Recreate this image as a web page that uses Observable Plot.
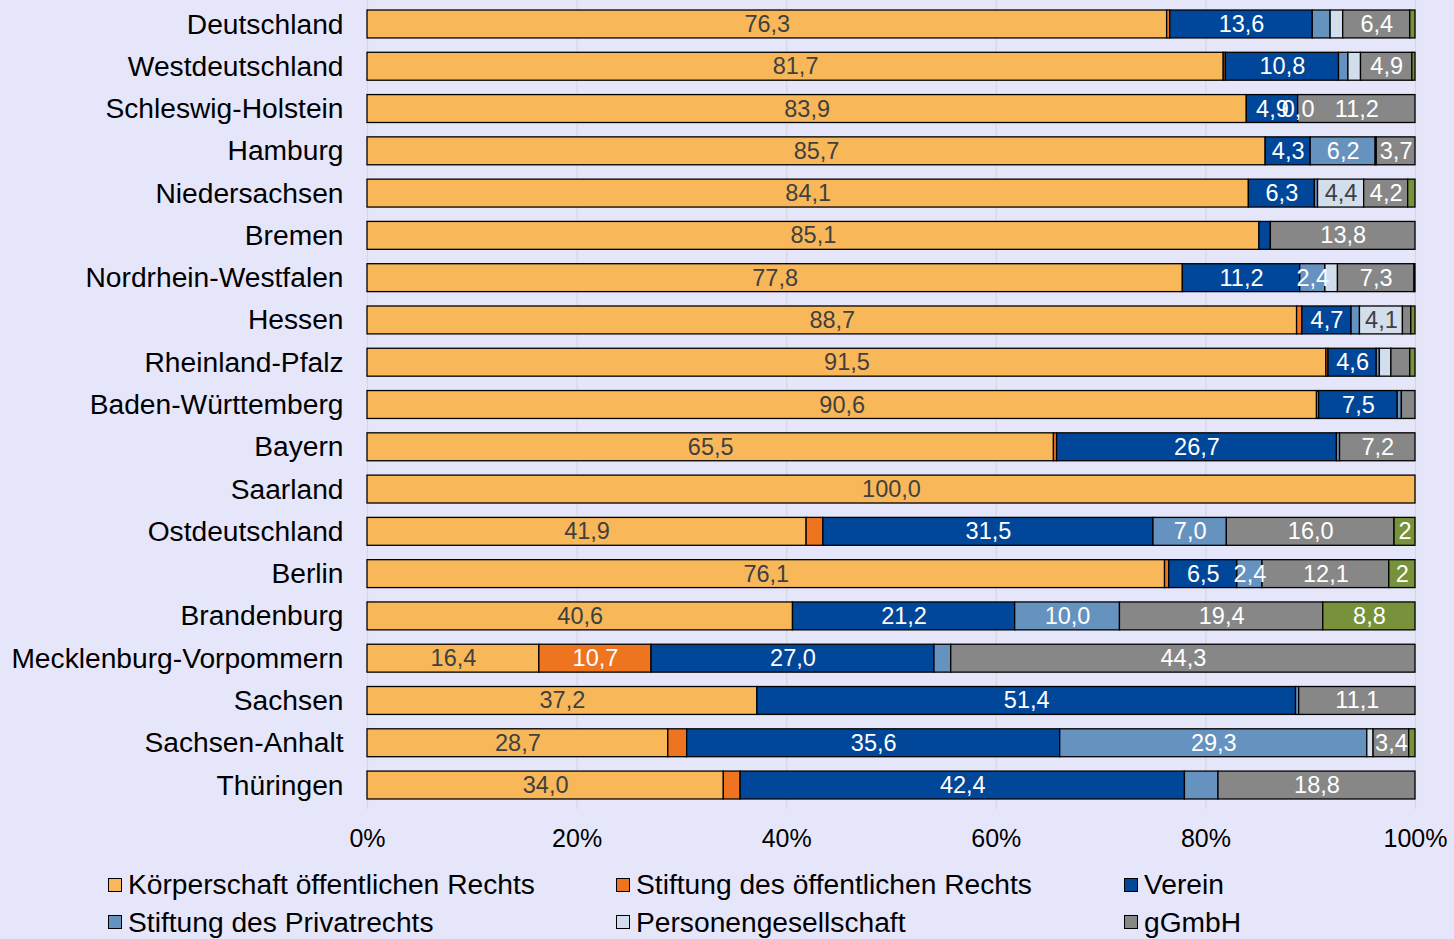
<!DOCTYPE html>
<html>
<head>
<meta charset="utf-8">
<script src="https://cdn.jsdelivr.net/npm/d3@7"></script>
<script src="https://cdn.jsdelivr.net/npm/@observablehq/plot@0.6"></script>
<style>
  html, body { margin: 0; padding: 0; background: #E6E6FA; }
  body { width: 1454px; height: 939px; overflow: hidden; font-family: "Liberation Sans", Arial, sans-serif; }
  #chart svg { display: block; }
  #legend { position: relative; width: 1454px; height: 77px; }
  .item { position: absolute; display: flex; align-items: center; font-size: 28.2px; color: #000; white-space: nowrap; height: 37px; }
  .sw { width: 12px; height: 12px; border: 1.5px solid #000; margin-right: 6px; flex: none; }
</style>
</head>
<body>
<div id="chart"></div>
<div id="legend"></div>
<script>
const lands = ["Deutschland","Westdeutschland","Schleswig-Holstein","Hamburg","Niedersachsen","Bremen","Nordrhein-Westfalen","Hessen","Rheinland-Pfalz","Baden-Württemberg","Bayern","Saarland","Ostdeutschland","Berlin","Brandenburg","Mecklenburg-Vorpommern","Sachsen","Sachsen-Anhalt","Thüringen"];

const seriesNames = ["Körperschaft öffentlichen Rechts","Stiftung des öffentlichen Rechts","Verein","Stiftung des Privatrechts","Personengesellschaft","gGmbH","Sonstige"];
const seriesColors = ["#F8B85A","#EE7420","#00479A","#6692C0","#D2DEEC","#878787","#77923A"];
const legendSeries = seriesNames.slice(0, 6);
const darkLabelSeries = ["Körperschaft öffentlichen Rechts","Personengesellschaft"];

const koerperschaft = [76.3, 81.7, 83.9, 85.7, 84.1, 85.1, 77.8, 88.7, 91.5, 90.6, 65.5, 100.0, 41.9, 76.1, 40.6, 16.4, 37.2, 28.7, 34.0];
const stiftungOeR   = [0.3, 0.2, 0, 0, 0, 0, 0, 0.5, 0.2, 0.2, 0.3, 0, 1.6, 0.4, 0, 10.7, 0, 1.8, 1.6];
const verein        = [13.6, 10.8, 4.9, 4.3, 6.3, 1.1, 11.2, 4.7, 4.6, 7.5, 26.7, 0, 31.5, 6.5, 21.2, 27.0, 51.4, 35.6, 42.4];
const stiftungPriv  = [1.7, 0.9, 0.0, 6.2, 0.3, 0, 2.4, 0.8, 0.3, 0.4, 0.3, 0, 7.0, 2.4, 10.0, 1.6, 0.3, 29.3, 3.2];
const personenges   = [1.2, 1.2, 0, 0.1, 4.4, 0, 1.2, 4.1, 1.1, 0, 0, 0, 0, 0, 0, 0, 0, 0.6, 0];
const ggmbh         = [6.4, 4.9, 11.2, 3.7, 4.2, 13.8, 7.3, 0.8, 1.8, 1.3, 7.2, 0, 16.0, 12.1, 19.4, 44.3, 11.1, 3.4, 18.8];
const sonstige      = [0.5, 0.3, 0, 0, 0.7, 0, 0.1, 0.4, 0.5, 0, 0, 0, 2.0, 2.5, 8.8, 0, 0, 0.6, 0];
const seriesValues = [koerperschaft, stiftungOeR, verein, stiftungPriv, personenges, ggmbh, sonstige];

const xTicks = [0, 20, 40, 60, 80, 100];

// label rules: shown when value >= 2, plus exceptions as in the original
const labelMin = 2;
const hiddenLabels = [["Thüringen", "Stiftung des Privatrechts"]];
const forcedLabels = [["Schleswig-Holstein", "Stiftung des Privatrechts"]];
const labelOverrides = [["Ostdeutschland", "Sonstige", "2"], ["Berlin", "Sonstige", "2"]];

const fmt = v => v.toFixed(1).replace(".", ",");
const has = (list, d) => list.some(([l, s]) => l === d.land && s === d.series);

const data = lands.flatMap((land, i) => seriesNames.map((series, j) => ({land, series, value: seriesValues[j][i]})));

function labelOf(d) {
  const o = labelOverrides.find(([l, s]) => l === d.land && s === d.series);
  if (o) return o[2];
  if (has(hiddenLabels, d)) return "";
  if (has(forcedLabels, d)) return fmt(d.value);
  return d.value >= labelMin ? fmt(d.value) : "";
}

const font = "'Liberation Sans', Arial, sans-serif";

const chart = Plot.plot({
  width: 1454,
  height: 862,
  marginLeft: 367,
  marginRight: 39,
  marginTop: 0,
  marginBottom: 53,
  style: {background: "transparent", fontFamily: font, overflow: "visible"},
  x: {domain: [0, 100], axis: null},
  y: {domain: lands, paddingInner: 0.34, paddingOuter: 0.237, round: false, axis: null},
  color: {domain: seriesNames, range: seriesColors},
  marks: [
    Plot.ruleX(xTicks, {stroke: "#D6D6DE", strokeWidth: 1.2}),
    Plot.barX(data.filter(d => d.value > 0), Plot.stackX({x: "value", y: "land", fill: "series", stroke: "#000", strokeWidth: 1.3})),
    Plot.text(data, Plot.stackX({x: "value", y: "land", z: "series",
      text: d => darkLabelSeries.includes(d.series) ? labelOf(d) : "",
      fill: "#404040", fontSize: 23.5, fontFamily: font})),
    Plot.text(data, Plot.stackX({x: "value", y: "land", z: "series",
      text: d => darkLabelSeries.includes(d.series) ? "" : labelOf(d),
      fill: "#ffffff", fontSize: 23.5, fontFamily: font})),
    Plot.axisY({tickSize: 0, tickPadding: 24, fontSize: 28.2, label: null, fill: "#000"}),
    Plot.axisX({ticks: xTicks, tickFormat: d => d + "%", tickSize: 0, tickPadding: 20, fontSize: 25, label: null, fill: "#000"})
  ]
});
document.getElementById("chart").appendChild(chart);

// legend (HTML, below the SVG)
const legend = document.getElementById("legend");
const colX = [108, 616, 1124];
legendSeries.forEach((name, i) => {
  const item = document.createElement("div");
  item.className = "item";
  item.style.left = colX[i % 3] + "px";
  item.style.top = (4 + Math.floor(i / 3) * 37.5) + "px";
  const sw = document.createElement("span");
  sw.className = "sw";
  sw.style.background = seriesColors[seriesNames.indexOf(name)];
  item.appendChild(sw);
  item.appendChild(document.createTextNode(name));
  legend.appendChild(item);
});
</script>
</body>
</html>
